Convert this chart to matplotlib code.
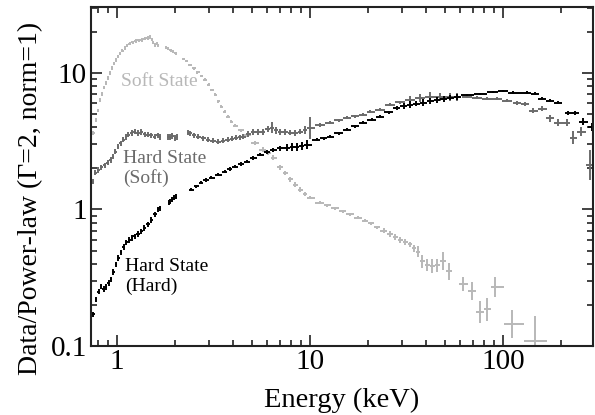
import numpy as np
import matplotlib
matplotlib.use("Agg")
import matplotlib.pyplot as plt
from matplotlib.ticker import LogLocator, NullFormatter, FixedLocator, FixedFormatter

nan = np.nan

# ---- Soft state spectrum (ratio to a Gamma=2 power law) ----
soft_e = [0.754, 0.781, 0.80, 0.819, 0.84, 0.859, 0.88, 0.902, 0.925, 0.945, 0.97, 0.992,
          1.02, 1.04, 1.07, 1.10, 1.13, 1.17, 1.21, 1.26, 1.30, 1.35, 1.40, 1.45, 1.49,
          1.52, 1.55, 1.58, 1.61, 1.64, nan,
          1.80, 1.85, 1.90, 1.96, 2.02, nan,
          2.22, 2.30, 2.40, 2.50, 2.62, 2.75, 2.87, 3.0, 3.12, 3.23, 3.35, 3.47, 3.62, 3.77,
          3.93, 4.10, 4.40, 4.73, 5.21, 5.73, 6.10, 6.46, 7.02, 7.45, 7.91, 8.40, 8.91, 9.45,
          10.0, 11.3, 12.3, 13.5, 14.8, 16.2, 17.8, 19.4, 20.8, 22.3, 24.2, 26.1, 27.7, 29.4,
          31.2, 33.1, 34.7, 36.4, 38.2, 40.5, 43.0, 45.7, 49.1, 52.7, nan,
          62.3, 69.4, 76.4, 83.0, 91.3, 112, 147]
soft_v = [3.65, 4.5, 5.3, 6.3, 7.0, 7.8, 8.4, 9.2, 10.0, 10.9, 11.7, 12.4,
          13.2, 13.8, 14.5, 15.2, 15.8, 16.3, 16.7, 17.1, 17.3, 17.4, 17.8, 18.0, 18.3,
          17.6, 16.6, 16.0, 16.3, 15.9, nan,
          15.3, 15.0, 14.6, 14.3, 13.9, nan,
          12.6, 12.2, 11.4, 10.8, 10.1, 9.5, 8.9, 8.2, 7.5, 6.9, 6.2, 5.65, 5.2, 4.77,
          4.4, 4.1, 3.8, 3.5, 3.08, 2.74, 2.58, 2.40, 2.03, 1.85, 1.66, 1.52, 1.40, 1.30,
          1.22, 1.12, 1.07, 1.02, 0.97, 0.92, 0.87, 0.83, 0.79, 0.74, 0.70, 0.66, 0.63, 0.60,
          0.58, 0.555, 0.52, 0.49, 0.417, 0.39, 0.384, 0.39, 0.417, 0.352, nan,
          0.284, 0.252, 0.177, 0.186, 0.27, 0.145, 0.109]
# 1-sigma half widths in dex, channel by channel
soft_err = [0.014] * 12 + \
           [0.012] * 13 + \
           [0.012] * 5 + [nan] + \
           [0.012] * 5 + [nan] + \
           [0.010] * 14 + \
           [0.010] * 3 + [0.016] * 11 + \
           [0.012] * 10 + [0.020] * 4 + \
           [0.02, 0.02, 0.025, 0.04, 0.05, 0.045, 0.05, 0.05, 0.066, 0.06] + [nan] + \
           [0.05, 0.066, 0.08, 0.085, 0.073, 0.10, 0.18]

# ---- Hard state, soft-band selection ----
hs_e = [0.754, 0.772, 0.80, 0.83, 0.865, 0.901, 0.93, 0.957, 0.985, 1.016, 1.05, 1.08,
        1.115, 1.15, 1.20, 1.24, 1.29, 1.34, 1.40, 1.45, 1.51, 1.58, 1.63, 1.68, nan,
        1.85, 1.89, 1.94, 2.0, 2.05, nan,
        2.35, 2.40, 2.52, 2.64, 2.80, 2.97, 3.15, 3.35, 3.55, 3.77, 3.96, 4.15, 4.33, 4.51,
        4.80, 5.08, 5.40, 5.73, 6.05, 6.38, 6.70, 7.02, 7.45, 7.91, 8.40, 8.91, 9.45, 10.0,
        11.3, 12.7, 14.1, 15.6, 17.2, 18.9, 20.5, 23.1, 26.1, 29.5, 33.1, 37.3, 42.0, 47.3,
        53.3, 58.0, nan,
        65.3, 73.6, 83.0, 93.4, 105, nan, 119, 131, nan, 144, 160, nan,
        176, 194, 215, 231, 254, 284]
hs_v = [1.60, 1.86, 1.95, 2.03, 2.10, 2.20, 2.30, 2.44, 2.65, 2.88, 3.05, 3.24,
        3.40, 3.53, 3.62, 3.71, 3.62, 3.68, 3.55, 3.53, 3.48, 3.41, 3.48, 3.38, nan,
        3.41, 3.38, 3.45, 3.36, 3.40, nan,
        3.65, 3.60, 3.50, 3.41, 3.32, 3.24, 3.18, 3.14, 3.18, 3.24, 3.30, 3.36, 3.38, 3.41,
        3.55, 3.71, 3.68, 3.71, 3.85, 3.97, 3.80, 3.71, 3.68, 3.65, 3.62, 3.71, 3.80, 3.97,
        4.15, 4.31, 4.50, 4.69, 4.82, 4.94, 5.19, 5.37, 5.84, 6.10, 6.35, 6.50, 6.68, 6.70,
        6.68, 6.68, nan,
        6.68, 6.57, 6.46, 6.46, 6.25, nan, 6.04, 5.94, nan, 5.28, 5.46, nan,
        4.65, 4.31, 4.31, 3.36, 3.71, 2.13]
hs_err = [0.020] * 24 + [nan] + [0.022] * 5 + [nan] + \
         [0.018] * 14 + [0.022, 0.022, 0.022, 0.022, 0.022, 0.04, 0.025, 0.022, 0.022, 0.02,
                         0.02, 0.02, 0.03, 0.08] + \
         [0.012] * 10 + [0.03, 0.03, 0.035, 0.03, 0.03, 0.03] + [nan] + \
         [0.01, 0.01, 0.01, 0.01, 0.012, nan, 0.015, 0.015, nan, 0.02, 0.02, nan,
          0.025, 0.025, 0.025, 0.045, 0.035, 0.11]

# ---- Hard state, hard-band selection ----
hh_e = [0.754, 0.782, 0.806, 0.830, 0.855, 0.881, 0.907, 0.934, 0.962, 0.992, 1.02, 1.05,
        1.085, 1.12, 1.16, 1.20, 1.24, 1.29, 1.34, 1.39, 1.45, 1.51, 1.58, 1.64, 1.68, nan,
        1.86, 1.89, 1.94, 1.99, 2.03, nan,
        2.43, 2.58, 2.73, 2.90, 3.08, 3.35, 3.64, 3.85, 4.10, 4.40, 4.73, 5.10, 5.53, 6.00,
        6.46, 7.0, 7.63, 8.10, 8.59, 9.10, 9.69, 10.9, 11.8, 12.7, 14.1, 15.6, 17.2, 18.9,
        20.9, 23.1, 25.6, 28.3, 30.6, 33.1, 35.7, 38.6, 42.0, 45.7, 49.3, 53.3, 58.0, nan,
        65.3, 76.2, 89.1, 100, 113, 134, 147, nan, 160, 176, 194, nan, 218, 237, nan, 261, 290]
hh_v = [0.171, 0.220, 0.250, 0.274, 0.262, 0.27, 0.29, 0.308, 0.35, 0.397, 0.44, 0.485,
        0.53, 0.574, 0.60, 0.62, 0.635, 0.66, 0.691, 0.73, 0.777, 0.84, 0.92, 1.0, 1.02, nan,
        1.12, 1.14, 1.18, 1.22, 1.24, nan,
        1.40, 1.48, 1.57, 1.64, 1.71, 1.80, 1.89, 1.98, 2.06, 2.15, 2.24, 2.38, 2.52, 2.64,
        2.74, 2.80, 2.84, 2.86, 2.88, 2.93, 2.98, 3.24, 3.32, 3.41, 3.62, 3.84, 4.05, 4.31,
        4.55, 4.77, 5.15, 5.55, 5.70, 5.84, 5.95, 6.04, 6.20, 6.35, 6.45, 6.57, 6.68, nan,
        6.90, 7.03, 7.26, 7.39, 7.14, 7.14, 7.03, nan, 6.46, 6.25, 6.04, nan, 5.10, 5.10,
        nan, 4.39, 4.04]
hh_err = [0.020] * 25 + [nan] + [0.018] * 5 + [nan] + \
         [0.012] * 14 + [0.015, 0.02, 0.025, 0.03, 0.03, 0.03, 0.035] + \
         [0.010] * 10 + [0.015, 0.02, 0.025, 0.02, 0.025, 0.02, 0.02, 0.02, 0.02, 0.02] + [nan] + \
         [0.008, 0.008, 0.008, 0.008, 0.01, 0.012, 0.012, nan, 0.012, 0.012, 0.012, nan,
          0.015, 0.015, nan, 0.025, 0.03]

series_labels = ["Soft State", "Hard State\n(Soft)", "Hard State\n(Hard)"]
series_colors = ["#b8b8b8", "#6b6b6b", "#000000"]


def bin_edges(energies):
    """Log-space bin edges for each channel: contiguous runs (split by NaN)
    share edges at geometric mid-points between neighbouring channels."""
    e = np.asarray(energies, float)
    lo = np.full_like(e, nan)
    hi = np.full_like(e, nan)
    idx = np.flatnonzero(~np.isnan(e))
    runs = np.split(idx, np.flatnonzero(np.diff(idx) > 1) + 1)
    for r in runs:
        le = np.log10(e[r])
        if len(r) == 1:
            lo[r] = le - 0.02
            hi[r] = le + 0.02
            continue
        mids = 0.5 * (le[1:] + le[:-1])
        lo[r] = np.concatenate([[2 * le[0] - mids[0]], mids])
        hi[r] = np.concatenate([mids, [2 * le[-1] - mids[-1]]])
    return 10 ** lo, 10 ** hi


plt.rcParams["font.family"] = ["Liberation Serif", "DejaVu Serif"]

fig = plt.figure(figsize=(5.95, 4.15), dpi=100)
ax = fig.add_axes([0.153, 0.166, 0.844, 0.817])

for e, v, d, c in [(soft_e, soft_v, soft_err, series_colors[0]),
                   (hs_e, hs_v, hs_err, series_colors[1]),
                   (hh_e, hh_v, hh_err, series_colors[2])]:
    e = np.asarray(e, float)
    v = np.asarray(v, float)
    d = np.asarray(d, float)
    lo, hi = bin_edges(e)
    m = ~np.isnan(e)
    e, v, d, lo, hi = e[m], v[m], d[m], lo[m], hi[m]
    xerr = [e - lo, hi - e]
    yerr = [v - v * 10 ** (-d), v * 10 ** d - v]
    ax.errorbar(e, v, xerr=xerr, yerr=yerr, fmt="none", ecolor=c,
                elinewidth=1.4, capsize=0)

ax.set_xscale("log")
ax.set_yscale("log")
ax.set_xlim(0.736, 294)
ax.set_ylim(0.1, 30.3)

ax.xaxis.set_major_locator(FixedLocator([1, 10, 100]))
ax.xaxis.set_major_formatter(FixedFormatter(["1", "10", "100"]))
ax.yaxis.set_major_locator(FixedLocator([0.1, 1, 10]))
ax.yaxis.set_major_formatter(FixedFormatter(["0.1", "1", "10"]))
ax.xaxis.set_minor_locator(LogLocator(base=10, subs=np.arange(2, 10)))
ax.yaxis.set_minor_locator(LogLocator(base=10, subs=np.arange(2, 10)))
ax.xaxis.set_minor_formatter(NullFormatter())
ax.yaxis.set_minor_formatter(NullFormatter())

ax.tick_params(which="both", direction="in", top=True, right=True,
               colors="#222222", width=1.2, labelsize=21, labelcolor="black")
ax.tick_params(which="major", length=8)
ax.tick_params(which="minor", length=4)
ax.tick_params(axis="x", pad=2)
ax.tick_params(axis="y", pad=3)
for s in ax.spines.values():
    s.set_linewidth(1.5)
    s.set_color("#222222")

ax.set_xlabel("Energy (keV)", fontsize=20.5, va="baseline")
ax.set_ylabel("Data/Power-law (\u0393=2, norm=1)", fontsize=20, va="baseline")
ax.xaxis.set_label_coords(0.5, -0.18)
ax.yaxis.set_label_coords(-0.1076, 0.437)

ax.text(1.05, 8.6, series_labels[0], color=series_colors[0], fontsize=14,
        ha="left", va="center")
ax.text(1.08, 1.99, series_labels[1], color=series_colors[1], fontsize=14,
        ha="left", va="center", linespacing=1.15)
ax.text(1.10, 0.324, series_labels[2], color=series_colors[2], fontsize=14,
        ha="left", va="center", linespacing=1.15)

fig.savefig("out.png", dpi=100, facecolor="white")
